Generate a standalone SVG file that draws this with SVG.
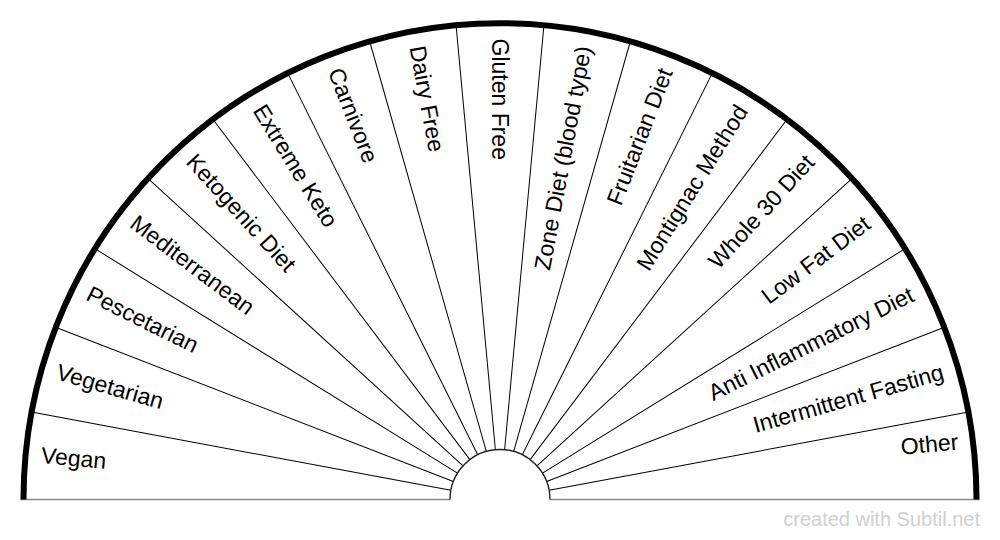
<svg xmlns="http://www.w3.org/2000/svg" width="1000" height="540" viewBox="0 0 1000 540">
<style>
.sep{stroke:#000;stroke-width:1;fill:none}
.lbl{font-family:"Liberation Sans",Arial,sans-serif;font-size:23px;fill:#000}
.l{text-anchor:start}
.r{text-anchor:end}
</style>
<rect width="1000" height="540" fill="#fff"/>
<g id="connectors">
<line class="sep" x1="450" y1="499.5" x2="22" y2="499.5" transform="rotate(10.5882 500 499.5)"/>
<line class="sep" x1="450" y1="499.5" x2="22" y2="499.5" transform="rotate(21.1765 500 499.5)"/>
<line class="sep" x1="450" y1="499.5" x2="22" y2="499.5" transform="rotate(31.7647 500 499.5)"/>
<line class="sep" x1="450" y1="499.5" x2="22" y2="499.5" transform="rotate(42.3529 500 499.5)"/>
<line class="sep" x1="450" y1="499.5" x2="22" y2="499.5" transform="rotate(52.9412 500 499.5)"/>
<line class="sep" x1="450" y1="499.5" x2="22" y2="499.5" transform="rotate(63.5294 500 499.5)"/>
<line class="sep" x1="450" y1="499.5" x2="22" y2="499.5" transform="rotate(74.1176 500 499.5)"/>
<line class="sep" x1="450" y1="499.5" x2="22" y2="499.5" transform="rotate(84.7059 500 499.5)"/>
<line class="sep" x1="450" y1="499.5" x2="22" y2="499.5" transform="rotate(95.2941 500 499.5)"/>
<line class="sep" x1="450" y1="499.5" x2="22" y2="499.5" transform="rotate(105.8824 500 499.5)"/>
<line class="sep" x1="450" y1="499.5" x2="22" y2="499.5" transform="rotate(116.4706 500 499.5)"/>
<line class="sep" x1="450" y1="499.5" x2="22" y2="499.5" transform="rotate(127.0588 500 499.5)"/>
<line class="sep" x1="450" y1="499.5" x2="22" y2="499.5" transform="rotate(137.6471 500 499.5)"/>
<line class="sep" x1="450" y1="499.5" x2="22" y2="499.5" transform="rotate(148.2353 500 499.5)"/>
<line class="sep" x1="450" y1="499.5" x2="22" y2="499.5" transform="rotate(158.8235 500 499.5)"/>
<line class="sep" x1="450" y1="499.5" x2="22" y2="499.5" transform="rotate(169.4118 500 499.5)"/>
<line x1="20.5" y1="499.5" x2="450" y2="499.5" stroke="#888" stroke-width="1.6"/>
<line x1="550" y1="499.5" x2="979.5" y2="499.5" stroke="#888" stroke-width="1.6"/>
<path d="M450 499.5 A50 50 0 0 1 550 499.5" fill="none" stroke="#222" stroke-width="1.4"/>
<path d="M23.5 499.5 A476.5 476.5 0 0 1 976.5 499.5" fill="none" stroke="#000" stroke-width="6"/>
</g>
<g id="n-vegan"><text class="lbl l" x="39" y="505.5" transform="rotate(5.2941 500 499.5)">Vegan</text></g>
<g id="n-vegetarian"><text class="lbl l" x="39" y="505.5" transform="rotate(15.8824 500 499.5)">Vegetarian</text></g>
<g id="n-pescetarian"><text class="lbl l" x="39" y="505.5" transform="rotate(26.4706 500 499.5)">Pescetarian</text></g>
<g id="n-mediterranean"><text class="lbl l" x="39" y="505.5" transform="rotate(37.0588 500 499.5)">Mediterranean</text></g>
<g id="n-ketogenic"><text class="lbl l" x="39" y="505.5" transform="rotate(47.6471 500 499.5)">Ketogenic Diet</text></g>
<g id="n-extreme-keto"><text class="lbl l" x="39" y="505.5" transform="rotate(58.2353 500 499.5)">Extreme Keto</text></g>
<g id="n-carnivore"><text class="lbl l" x="39" y="505.5" transform="rotate(68.8235 500 499.5)">Carnivore</text></g>
<g id="n-dairy-free"><text class="lbl l" x="39" y="505.5" transform="rotate(79.4118 500 499.5)">Dairy Free</text></g>
<g id="n-gluten-free"><text class="lbl l" x="39" y="507.5" transform="rotate(90 500 499.5)">Gluten Free</text></g>
<g id="n-zone"><text class="lbl r" x="961" y="506.5" transform="rotate(-79.4118 500 499.5)">Zone Diet (blood type)</text></g>
<g id="n-fruitarian"><text class="lbl r" x="961" y="506.5" transform="rotate(-68.8235 500 499.5)">Fruitarian Diet</text></g>
<g id="n-montignac"><text class="lbl r" x="961" y="506.5" transform="rotate(-58.2353 500 499.5)">Montignac Method</text></g>
<g id="n-whole30"><text class="lbl r" x="961" y="506.5" transform="rotate(-47.6471 500 499.5)">Whole 30 Diet</text></g>
<g id="n-lowfat"><text class="lbl r" x="961" y="506.5" transform="rotate(-37.0588 500 499.5)">Low Fat Diet</text></g>
<g id="n-antiinflam"><text class="lbl r" x="961" y="506.5" transform="rotate(-26.4706 500 499.5)">Anti Inflammatory Diet</text></g>
<g id="n-intermittent"><text class="lbl r" x="961" y="505.5" transform="rotate(-15.8824 500 499.5)">Intermittent Fasting</text></g>
<g id="n-other"><text class="lbl r" x="961.5" y="492" transform="rotate(-5.2941 500 499.5)">Other</text></g>
<text x="980" y="526" font-family="'Liberation Sans',Arial,sans-serif" font-size="20" fill="#d0d0d0" text-anchor="end">created with Subtil.net</text>
</svg>
